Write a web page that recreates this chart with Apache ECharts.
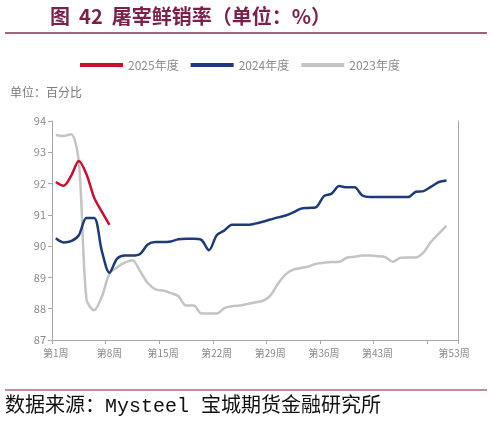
<!DOCTYPE html>
<html>
<head>
<meta charset="utf-8">
<script src="https://cdn.jsdelivr.net/npm/echarts@6/dist/echarts.min.js"></script>
<style>
html,body{margin:0;padding:0;background:#fff;}
#c{width:492px;height:422px;}
</style>
</head>
<body>
<div id="c"></div>
<script>
// Weeks on the category axis
const weeks = [];
for (let i = 1; i <= 53; i++) weeks.push('第' + i + '周');

const yTicks = { min: 87, max: 94, interval: 1 };

const s2025 = [92.05, 91.93, 92.25, 92.72, 92.3, 91.55, 91.1, 90.68];

const s2024 = [90.25, 90.12, 90.16, 90.35, 90.9, 90.9, 89.85, 89.15, 89.6, 89.7,
  89.7, 89.75, 90.05, 90.13, 90.13, 90.15, 90.22, 90.24, 90.24, 90.2,
  89.87, 90.35, 90.5, 90.68, 90.68, 90.68, 90.72, 90.78, 90.85, 90.92,
  90.98, 91.08, 91.2, 91.22, 91.25, 91.6, 91.68, 91.92, 91.88, 91.88,
  91.62, 91.57, 91.57, 91.57, 91.57, 91.57, 91.57, 91.74, 91.76, 91.9,
  92.05, 92.1];

const s2023 = [93.55, 93.52, 93.58, 92.7, 88.3, 87.95, 88.38, 89.12, 89.32, 89.47,
  89.55, 89.2, 88.82, 88.62, 88.58, 88.5, 88.4, 88.1, 88.1, 87.85,
  87.85, 87.85, 88.02, 88.08, 88.1, 88.15, 88.2, 88.25, 88.42, 88.8,
  89.1, 89.25, 89.3, 89.35, 89.44, 89.47, 89.49, 89.5, 89.63, 89.66,
  89.7, 89.7, 89.68, 89.65, 89.5, 89.63, 89.64, 89.64, 89.8, 90.15,
  90.4, 90.65];

const names = ['2025年度', '2024年度', '2023年度'];
const colors = ['#C8102E', '#1F3A7A', '#C4C4C4'];

const chart = echarts.init(document.getElementById('c'), null, { renderer: 'canvas' });
const axisGray = '#A8A8A8';
const labelGray = '#8A8A8A';

chart.setOption({
  animation: false,
  backgroundColor: '#fff',
  textStyle: { fontFamily: "'Noto Sans CJK SC', 'Noto Sans', sans-serif" },
  graphic: [
    { type: 'text', left: 50, top: 6,
      style: { text: '图  42  屠宰鲜销率（单位：%）', fill: '#7B1F4B',
        font: "bold 20px 'Noto Sans CJK SC', sans-serif" } },
    { type: 'line', shape: { x1: 5, y1: 33, x2: 487, y2: 33 },
      style: { stroke: '#A2617F', lineWidth: 2 } },
    { type: 'text', left: 10, top: 86,
      style: { text: '单位：百分比', fill: '#7A7A7A',
        font: "12px 'Noto Sans CJK SC', sans-serif" } },
    { type: 'line', shape: { x1: 5, y1: 390, x2: 487, y2: 390 },
      style: { stroke: '#8B1A3A', lineWidth: 1.2 } },
    { type: 'text', left: 5, top: 397,
      style: { text: '数据来源：Mysteel 宝城期货金融研究所', fill: '#111',
        font: "20px 'Liberation Mono', 'Noto Sans CJK SC', monospace" } }
  ],
  legend: {
    data: names,
    left: 75, top: 54,
    icon: 'rect',
    itemWidth: 43, itemHeight: 4, itemGap: 12,
    textStyle: { color: '#8C8C8C', fontSize: 12 }
  },
  grid: { left: 52, right: 34, top: 121, bottom: 82 },
  xAxis: {
    type: 'category',
    data: weeks,
    boundaryGap: true,
    axisLine: { lineStyle: { color: axisGray, width: 1 } },
    axisTick: { show: true, interval: function (i) { return i % 7 === 0; }, length: 4, lineStyle: { color: axisGray } },
    axisLabel: {
      interval: function (i) { return (i % 7 === 0 && i !== 49) || i === 52; },
      color: labelGray, fontSize: 10, margin: 8
    }
  },
  yAxis: [{
    type: 'value',
    min: yTicks.min, max: yTicks.max, interval: yTicks.interval,
    splitLine: { show: false },
    axisLine: { show: true, lineStyle: { color: axisGray } },
    axisTick: { show: true, length: 4, lineStyle: { color: axisGray } },
    axisLabel: { color: labelGray, fontSize: 11, margin: 6 }
  }, {
    type: 'value', position: 'right',
    min: yTicks.min, max: yTicks.max, interval: yTicks.interval,
    splitLine: { show: false },
    axisLine: { show: true, lineStyle: { color: axisGray } },
    axisTick: { show: false }, axisLabel: { show: false }
  }],
  series: [
    { name: names[2], type: 'line', data: s2023, smooth: 0.3, symbol: 'none', z: 1,
      lineStyle: { color: colors[2], width: 2.5 }, itemStyle: { color: colors[2] } },
    { name: names[1], type: 'line', data: s2024, smooth: 0.3, symbol: 'none', z: 2,
      lineStyle: { color: colors[1], width: 2.5 }, itemStyle: { color: colors[1] } },
    { name: names[0], type: 'line', data: s2025, smooth: 0.3, symbol: 'none', z: 3,
      lineStyle: { color: colors[0], width: 2.5 }, itemStyle: { color: colors[0] } }
  ]
});
</script>
</body>
</html>
